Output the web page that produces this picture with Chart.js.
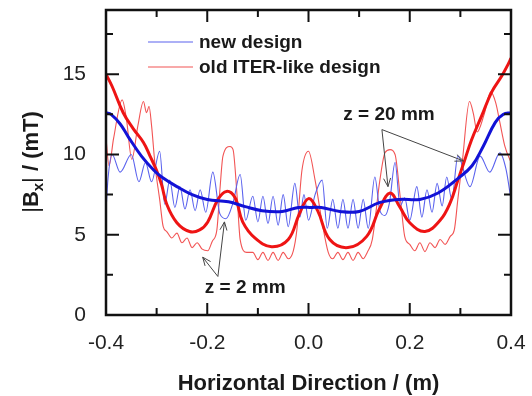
<!DOCTYPE html>
<html>
<head>
<meta charset="utf-8">
<script src="https://cdn.jsdelivr.net/npm/chart.js@4.4.1/dist/chart.umd.min.js"></script>
<style>
  html, body { margin: 0; padding: 0; background: #fff; }
  canvas { display: block; }
</style>
</head>
<body>
<canvas id="chart" width="532" height="396"></canvas>
<script>
// values, [x in m, |Bx| in mT]
const newThin = [
  [-0.400, 6.5], [-0.396, 8.5], [-0.388, 10.0], [-0.372, 8.9], [-0.350, 10.0], [-0.335, 8.3],
  [-0.322, 9.5], [-0.310, 8.3], [-0.294, 10.2], [-0.284, 6.9], [-0.274, 8.4], [-0.264, 6.7],
  [-0.254, 8.0], [-0.244, 6.6], [-0.234, 7.8], [-0.224, 6.5], [-0.214, 7.8], [-0.203, 6.4],
  [-0.189, 8.9], [-0.175, 6.3], [-0.163, 6.0], [-0.149, 7.0], [-0.135, 8.75], [-0.124, 5.9],
  [-0.110, 7.4], [-0.100, 5.8], [-0.090, 7.4], [-0.080, 5.7], [-0.070, 7.4], [-0.060, 5.6],
  [-0.050, 7.5], [-0.040, 5.5], [-0.027, 8.2], [-0.017, 6.1], [-0.009, 7.5], [0.000, 5.9],
  [0.013, 7.5], [0.027, 8.4], [0.037, 5.4], [0.048, 7.2], [0.058, 5.4], [0.068, 7.2],
  [0.078, 5.4], [0.088, 7.2], [0.098, 5.4], [0.108, 7.2], [0.118, 5.4], [0.131, 8.6],
  [0.141, 6.5], [0.151, 6.2], [0.160, 7.0], [0.171, 9.5], [0.181, 6.8], [0.190, 7.3],
  [0.200, 5.9], [0.214, 8.0], [0.224, 6.1], [0.234, 7.8], [0.244, 6.4], [0.254, 8.2],
  [0.264, 6.8], [0.273, 8.6], [0.283, 7.2], [0.295, 9.9], [0.319, 8.0], [0.339, 9.9],
  [0.358, 8.9], [0.378, 10.1], [0.390, 9.1], [0.400, 7.2]
];
const oldThin = [
  [-0.400, 11.0], [-0.394, 9.3], [-0.385, 11.0], [-0.368, 13.4], [-0.360, 12.3], [-0.349, 9.7],
  [-0.337, 11.8], [-0.326, 13.3], [-0.320, 12.6], [-0.315, 13.0], [-0.310, 11.8], [-0.303, 9.3],
  [-0.294, 7.2], [-0.287, 5.5], [-0.280, 5.2], [-0.270, 4.8], [-0.260, 5.1], [-0.250, 4.5],
  [-0.240, 4.8], [-0.230, 4.2], [-0.220, 4.5], [-0.210, 4.1], [-0.199, 4.0], [-0.190, 4.6],
  [-0.181, 5.3], [-0.175, 7.8], [-0.169, 9.9], [-0.155, 10.5], [-0.149, 10.3], [-0.141, 7.4],
  [-0.135, 4.7], [-0.122, 3.9], [-0.110, 3.9], [-0.100, 3.45], [-0.090, 3.9], [-0.080, 3.4],
  [-0.070, 3.9], [-0.060, 3.4], [-0.050, 3.9], [-0.040, 3.5], [-0.030, 4.0], [-0.023, 5.3],
  [-0.013, 9.0], [0.000, 10.2], [0.013, 8.4], [0.027, 5.75], [0.039, 3.9], [0.048, 3.5],
  [0.058, 3.9], [0.068, 3.45], [0.078, 3.9], [0.088, 3.4], [0.098, 3.9], [0.108, 3.5],
  [0.116, 3.9], [0.126, 4.7], [0.141, 8.4], [0.151, 10.1], [0.161, 10.3], [0.171, 10.0],
  [0.181, 7.4], [0.190, 4.9], [0.200, 4.4], [0.210, 4.0], [0.220, 4.5], [0.230, 3.95],
  [0.240, 4.5], [0.250, 4.2], [0.260, 4.7], [0.270, 4.4], [0.280, 4.9], [0.288, 5.3],
  [0.295, 7.2], [0.304, 9.6], [0.318, 13.3], [0.326, 12.5], [0.333, 11.4], [0.347, 12.5],
  [0.360, 13.9], [0.370, 13.2], [0.378, 12.0], [0.388, 10.5], [0.400, 9.5]
];
const newThick = [
  [-0.400, 12.6], [-0.390, 12.5], [-0.372, 11.9], [-0.356, 11.1], [-0.330, 9.9], [-0.305, 9.0],
  [-0.290, 8.6], [-0.260, 8.0], [-0.230, 7.5], [-0.200, 7.2], [-0.158, 7.05], [-0.125, 6.75],
  [-0.092, 6.5], [-0.052, 6.45], [-0.020, 6.7], [0.007, 6.7], [0.025, 6.7], [0.062, 6.45],
  [0.100, 6.45], [0.140, 7.0], [0.180, 7.2], [0.220, 7.2], [0.256, 7.6], [0.295, 8.5],
  [0.323, 9.3], [0.345, 10.5], [0.369, 12.0], [0.385, 12.5], [0.400, 12.6]
];
const oldThick = [
  [-0.400, 15.0], [-0.388, 14.25], [-0.366, 12.6], [-0.346, 11.6], [-0.326, 10.75], [-0.313, 9.9],
  [-0.300, 9.0], [-0.290, 8.1], [-0.280, 6.9], [-0.260, 5.75], [-0.235, 5.2], [-0.215, 5.3],
  [-0.199, 5.8], [-0.179, 7.2], [-0.162, 7.7], [-0.145, 7.3], [-0.130, 5.8], [-0.106, 4.8],
  [-0.073, 4.25], [-0.040, 4.7], [-0.018, 6.3], [0.000, 7.25], [0.018, 6.5], [0.042, 4.7],
  [0.078, 4.2], [0.115, 4.9], [0.140, 6.6], [0.161, 7.6], [0.180, 6.75], [0.200, 5.75],
  [0.230, 5.2], [0.260, 5.9], [0.280, 7.0], [0.295, 8.4], [0.306, 9.4], [0.322, 10.9],
  [0.342, 12.4], [0.362, 13.9], [0.382, 14.9], [0.394, 15.6], [0.400, 16.0]
];

const xTicks = [-0.4, -0.3, -0.2, -0.1, 0, 0.1, 0.2, 0.3, 0.4];
const yTicks = [0, 2.5, 5, 7.5, 10, 12.5, 15, 17.5];
const legendLabels = ['new design', 'old ITER-like design'];

const FONT = "'Liberation Sans', Arial, sans-serif";
const BLUE_THIN = '#5a62ee', RED_THIN = '#f25454';
const BLUE = '#1212d6', RED = '#ee1414';

const toXY = arr => arr.map(p => ({x: p[0], y: p[1]}));
const isMajorX = v => Math.round(v * 10) % 2 === 0;
const isMajorY = v => Math.round(v * 10) % 50 === 0;

function arrow(ctx, x0, y0, x1, y1) {
  ctx.beginPath();
  ctx.moveTo(x0, y0);
  ctx.lineTo(x1, y1);
  const a = Math.atan2(y1 - y0, x1 - x0);
  const L = 9;
  ctx.moveTo(x1 - L * Math.cos(a - 0.4), y1 - L * Math.sin(a - 0.4));
  ctx.lineTo(x1, y1);
  ctx.lineTo(x1 - L * Math.cos(a + 0.4), y1 - L * Math.sin(a + 0.4));
  ctx.stroke();
}

// frame, inward ticks, titles, legend and notes
const decor = {
  id: 'decor',
  afterDraw(chart) {
    const {ctx, chartArea: a, scales: {x, y}} = chart;
    ctx.save();
    ctx.strokeStyle = '#111';
    ctx.lineWidth = 2;
    ctx.beginPath();
    xTicks.forEach(v => {
      const px = x.getPixelForValue(v);
      const len = isMajorX(v) ? 12 : 7;
      ctx.moveTo(px, a.bottom); ctx.lineTo(px, a.bottom - len);
      ctx.moveTo(px, a.top); ctx.lineTo(px, a.top + len);
    });
    yTicks.forEach(v => {
      const py = y.getPixelForValue(v);
      const len = isMajorY(v) ? 13 : 7;
      ctx.moveTo(a.left, py); ctx.lineTo(a.left + len, py);
      ctx.moveTo(a.right, py); ctx.lineTo(a.right - len, py);
    });
    ctx.stroke();
    ctx.lineWidth = 2.5;
    ctx.strokeRect(a.left, a.top, a.right - a.left, a.bottom - a.top);

    // legend
    ctx.textBaseline = 'middle';
    ctx.textAlign = 'left';
    ctx.font = 'bold 19px ' + FONT;
    [BLUE_THIN, RED_THIN].forEach((c, i) => {
      const ly = 42 + i * 25;
      ctx.strokeStyle = c;
      ctx.lineWidth = 1.2;
      ctx.beginPath(); ctx.moveTo(148, ly); ctx.lineTo(193, ly); ctx.stroke();
      ctx.fillStyle = '#1a1a1a';
      ctx.fillText(legendLabels[i], 199, ly + 1);
    });

    // notes with arrows
    ctx.textAlign = 'center';
    ctx.fillText('z = 20 mm', x.getPixelForValue(0.159), y.getPixelForValue(12.5));
    ctx.fillText('z = 2 mm', x.getPixelForValue(-0.125), y.getPixelForValue(1.7));
    ctx.strokeStyle = '#444';
    ctx.lineWidth = 1;
    const o1 = [x.getPixelForValue(0.145), y.getPixelForValue(11.55)];
    arrow(ctx, o1[0], o1[1], x.getPixelForValue(0.157), y.getPixelForValue(8.0));
    arrow(ctx, o1[0], o1[1], x.getPixelForValue(0.306), y.getPixelForValue(9.6));
    const o2 = [x.getPixelForValue(-0.179), y.getPixelForValue(2.4)];
    arrow(ctx, o2[0], o2[1], x.getPixelForValue(-0.166), y.getPixelForValue(5.8));
    arrow(ctx, o2[0], o2[1], x.getPixelForValue(-0.209), y.getPixelForValue(3.6));

    // x title
    ctx.fillStyle = '#1a1a1a';
    ctx.font = 'bold 22px ' + FONT;
    ctx.fillText('Horizontal Direction / (m)', (a.left + a.right) / 2, 384);

    // y title with subscript
    ctx.translate(30, 162);
    ctx.rotate(-Math.PI / 2);
    ctx.textAlign = 'left';
    ctx.textBaseline = 'alphabetic';
    const parts = [
      {t: '|', f: '22px ' + FONT, dy: 0},
      {t: 'B', f: 'bold 22px ' + FONT, dy: 0},
      {t: 'x', f: 'bold 15px ' + FONT, dy: 5},
      {t: '|', f: '22px ' + FONT, dy: 0},
      {t: ' / (mT)', f: 'bold 22px ' + FONT, dy: 0}
    ];
    let w = 0;
    parts.forEach(p => { ctx.font = p.f; p.w = ctx.measureText(p.t).width; w += p.w; });
    let cx = -w / 2;
    parts.forEach(p => {
      ctx.font = p.f;
      ctx.fillText(p.t, cx, 8 + p.dy);
      cx += p.w;
    });
    ctx.restore();
  }
};

new Chart(document.getElementById('chart'), {
  type: 'line',
  data: {
    datasets: [
      {label: legendLabels[0], data: toXY(newThin), borderColor: BLUE_THIN, borderWidth: 1.1,
       cubicInterpolationMode: 'monotone', order: 3},
      {label: legendLabels[1], data: toXY(oldThin), borderColor: RED_THIN, borderWidth: 1.1,
       cubicInterpolationMode: 'monotone', order: 4},
      {label: 'new z = 20 mm', data: toXY(newThick), borderColor: BLUE, borderWidth: 3,
       tension: 0.4, order: 1},
      {label: 'old z = 20 mm', data: toXY(oldThick), borderColor: RED, borderWidth: 3,
       tension: 0.4, order: 2}
    ]
  },
  options: {
    responsive: false,
    animation: false,
    elements: {point: {radius: 0}},
    layout: {padding: {top: 10, right: 21, left: 0, bottom: 0}},
    plugins: {legend: {display: false}, tooltip: {enabled: false}},
    scales: {
      x: {
        type: 'linear', min: -0.4, max: 0.4,
        afterBuildTicks: s => { s.ticks = xTicks.map(v => ({value: v})); },
        afterFit: s => { s.height = 81; s.paddingLeft = 0; s.paddingRight = 0; },
        grid: {display: false}, border: {display: false},
        ticks: {
          autoSkip: false, maxRotation: 0, padding: 8, color: '#222',
          font: {family: FONT, size: 21},
          callback: v => isMajorX(v) ? v.toFixed(1) : ''
        }
      },
      y: {
        type: 'linear', min: 0, max: 19,
        afterBuildTicks: s => { s.ticks = yTicks.map(v => ({value: v})); },
        afterFit: s => { s.width = 106; s.paddingTop = 0; s.paddingBottom = 0; },
        grid: {display: false}, border: {display: false},
        ticks: {
          autoSkip: false, padding: 12, color: '#222',
          font: {family: FONT, size: 21},
          callback: v => isMajorY(v) ? String(v) : ''
        }
      }
    }
  },
  plugins: [decor]
});
</script>
</body>
</html>
